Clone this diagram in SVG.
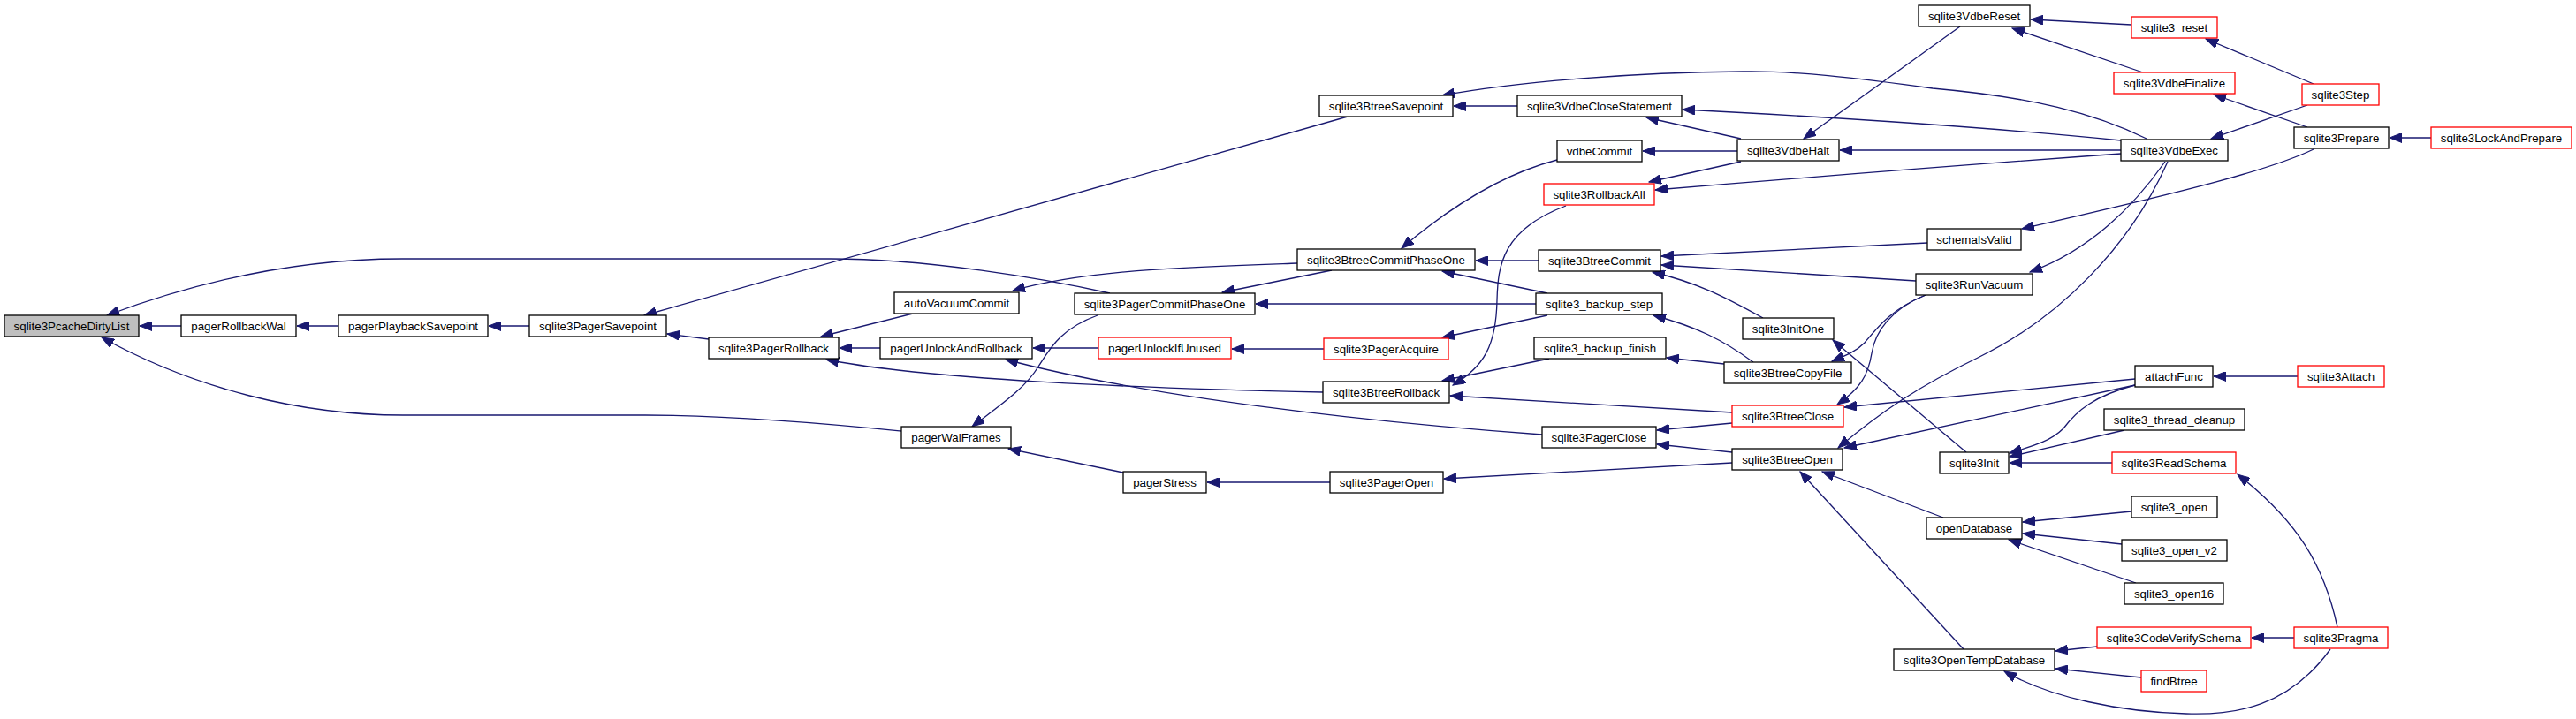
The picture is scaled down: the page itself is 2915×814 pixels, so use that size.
<svg xmlns="http://www.w3.org/2000/svg" width="2915" height="814" viewBox="0 0 2915 814">
<style>
.node rect{fill:#fff;stroke:#000;stroke-width:1.3}
.node.red rect{stroke:#ff0000}
.node.root rect{fill:#bfbfbf}
.node text{font-family:"Liberation Sans",Arial,sans-serif;font-size:13.3px;text-anchor:middle;fill:#000}
#edges path{fill:none;stroke:#191970;stroke-width:1.3;marker-end:url(#ah)}
</style>
<defs>
<marker id="ah" markerUnits="userSpaceOnUse" markerWidth="15" markerHeight="11" refX="14" refY="5.5" orient="auto">
<path d="M0,0 L14,5.5 L0,11 z" fill="#191970" stroke="#191970" stroke-width="1"/>
</marker>
</defs>
<rect width="2915" height="814" fill="#fff"/>
<g id="edges">
<path d="M205,369 L158,369"/>
<path d="M383,369 L336,369"/>
<path d="M599,369 L553,369"/>
<path d="M1256,332 C1180,315 1050,293 940,293 L455,293 C330,293 220,320 121,357"/>
<path d="M1020,488 C900,476 800,470 730,470 L456,470 C340,470 220,440 115,382"/>
<path d="M802,384 L755,378"/>
<path d="M1525,132 L729,357"/>
<path d="M1033,355 L929,381"/>
<path d="M996,394 L950,394"/>
<path d="M1497,444 C1300,440 1050,430 935,407"/>
<path d="M1745,492 C1550,478 1300,450 1138,407"/>
<path d="M1243,394 L1169,394"/>
<path d="M1498,395 L1394,395"/>
<path d="M1242,357 C1200,372 1188,395 1175,415 C1160,440 1130,460 1100,483"/>
<path d="M1271,535 L1141,508"/>
<path d="M1505,546 L1366,546"/>
<path d="M1507,306 L1383,331"/>
<path d="M1738,344 L1421,344"/>
<path d="M1468,298 C1350,302 1230,305 1146,329"/>
<path d="M1717,120 L1645,120"/>
<path d="M2429,157 C2370,128 2300,110 2187,100 C2100,88 2030,80 1972,81 C1850,82 1720,92 1632,108"/>
<path d="M1970,157 L1863,133"/>
<path d="M2400,159 Q2200,139 1904,124"/>
<path d="M1762,181 C1700,197 1640,235 1586,281"/>
<path d="M1966,171 L1859,171"/>
<path d="M1970,183 L1866,206"/>
<path d="M2400,170 L2082,170"/>
<path d="M2400,174 Q2150,192 1873,215"/>
<path d="M1772,233 C1700,260 1695,300 1694,340 C1693,390 1680,415 1644,436"/>
<path d="M1741,295 L1670,295"/>
<path d="M1751,332 L1632,307"/>
<path d="M1751,357 L1632,382"/>
<path d="M1753,406 L1632,431"/>
<path d="M1951,412 L1886,405"/>
<path d="M1984,410 C1950,385 1920,370 1871,357"/>
<path d="M1960,467 L1641,448"/>
<path d="M1960,479 L1875,487"/>
<path d="M1960,512 L1875,503"/>
<path d="M1960,524 L1634,542"/>
<path d="M2181,275 L1880,290"/>
<path d="M2168,318 L1880,300"/>
<path d="M1995,360 C1950,335 1920,320 1870,308"/>
<path d="M2179,334 C2140,350 2125,370 2110,388 C2100,398 2090,402 2073,409"/>
<path d="M2179,334 C2140,350 2122,375 2118,400 C2114,425 2105,440 2079,458"/>
<path d="M2225,512 L2074,385"/>
<path d="M2450,183 C2410,240 2360,285 2297,308"/>
<path d="M2453,183 C2410,280 2330,360 2240,404 C2170,438 2130,465 2080,507"/>
<path d="M2416,429 L2087,461"/>
<path d="M2416,436 L2087,507"/>
<path d="M2416,436 C2370,448 2350,465 2335,485 C2320,500 2300,505 2274,513"/>
<path d="M2404,487 L2274,517"/>
<path d="M2390,524 L2274,524"/>
<path d="M2645,710 C2630,640 2600,590 2532,537"/>
<path d="M2412,579 L2289,591"/>
<path d="M2401,616 L2289,604"/>
<path d="M2417,660 L2273,611"/>
<path d="M2199,586 L2062,534"/>
<path d="M2222,735 L2037,534"/>
<path d="M2373,732 L2326,737"/>
<path d="M2423,767 L2326,757"/>
<path d="M2637,735 C2590,800 2530,810 2474,808 C2400,806 2320,790 2268,760"/>
<path d="M2596,722 L2548,722"/>
<path d="M2600,426 L2505,426"/>
<path d="M2751,156 L2704,156"/>
<path d="M2618,169 C2570,192 2480,215 2288,259"/>
<path d="M2611,119 L2502,157"/>
<path d="M2618,95 L2496,44"/>
<path d="M2611,144 L2505,107"/>
<path d="M2412,28 L2298,22"/>
<path d="M2425,82 L2277,32"/>
<path d="M2218,30 L2041,157"/>
</g>
<g id="n_sqlite3PcacheDirtyList" class="node root"><rect x="5" y="357" width="152" height="24"/><text x="81" y="374">sqlite3PcacheDirtyList</text></g>
<g id="n_pagerRollbackWal" class="node"><rect x="205" y="357" width="130" height="24"/><text x="270" y="374">pagerRollbackWal</text></g>
<g id="n_pagerPlaybackSavepoint" class="node"><rect x="383" y="357" width="169" height="24"/><text x="467.5" y="374">pagerPlaybackSavepoint</text></g>
<g id="n_sqlite3PagerSavepoint" class="node"><rect x="599" y="357" width="155" height="24"/><text x="676.5" y="374">sqlite3PagerSavepoint</text></g>
<g id="n_sqlite3PagerRollback" class="node"><rect x="802" y="382" width="147" height="24"/><text x="875.5" y="399">sqlite3PagerRollback</text></g>
<g id="n_autoVacuumCommit" class="node"><rect x="1012" y="331" width="141" height="24"/><text x="1082.5" y="348">autoVacuumCommit</text></g>
<g id="n_pagerUnlockAndRollback" class="node"><rect x="996" y="382" width="172" height="24"/><text x="1082" y="399">pagerUnlockAndRollback</text></g>
<g id="n_sqlite3PagerCommitPhaseOne" class="node"><rect x="1216" y="332" width="204" height="24"/><text x="1318" y="349">sqlite3PagerCommitPhaseOne</text></g>
<g id="n_pagerUnlockIfUnused" class="node red"><rect x="1243" y="382" width="150" height="24"/><text x="1318" y="399">pagerUnlockIfUnused</text></g>
<g id="n_pagerWalFrames" class="node"><rect x="1020" y="483" width="124" height="24"/><text x="1082" y="500">pagerWalFrames</text></g>
<g id="n_pagerStress" class="node"><rect x="1271" y="534" width="94" height="24"/><text x="1318" y="551">pagerStress</text></g>
<g id="n_sqlite3BtreeSavepoint" class="node"><rect x="1493" y="108" width="151" height="24"/><text x="1568.5" y="125">sqlite3BtreeSavepoint</text></g>
<g id="n_sqlite3VdbeCloseStatement" class="node"><rect x="1717" y="108" width="186" height="24"/><text x="1810" y="125">sqlite3VdbeCloseStatement</text></g>
<g id="n_vdbeCommit" class="node"><rect x="1762" y="159" width="96" height="24"/><text x="1810" y="176">vdbeCommit</text></g>
<g id="n_sqlite3RollbackAll" class="node red"><rect x="1747" y="208" width="125" height="24"/><text x="1809.5" y="225">sqlite3RollbackAll</text></g>
<g id="n_sqlite3BtreeCommitPhaseOne" class="node"><rect x="1468" y="282" width="201" height="24"/><text x="1568.5" y="299">sqlite3BtreeCommitPhaseOne</text></g>
<g id="n_sqlite3BtreeCommit" class="node"><rect x="1741" y="283" width="138" height="24"/><text x="1810" y="300">sqlite3BtreeCommit</text></g>
<g id="n_sqlite3_backup_step" class="node"><rect x="1738" y="332" width="143" height="24"/><text x="1809.5" y="349">sqlite3_backup_step</text></g>
<g id="n_sqlite3PagerAcquire" class="node red"><rect x="1498" y="383" width="141" height="24"/><text x="1568.5" y="400">sqlite3PagerAcquire</text></g>
<g id="n_sqlite3_backup_finish" class="node"><rect x="1736" y="382" width="149" height="24"/><text x="1810.5" y="399">sqlite3_backup_finish</text></g>
<g id="n_sqlite3BtreeRollback" class="node"><rect x="1497" y="432" width="143" height="24"/><text x="1568.5" y="449">sqlite3BtreeRollback</text></g>
<g id="n_sqlite3PagerClose" class="node"><rect x="1745" y="483" width="129" height="24"/><text x="1809.5" y="500">sqlite3PagerClose</text></g>
<g id="n_sqlite3PagerOpen" class="node"><rect x="1505" y="534" width="128" height="24"/><text x="1569" y="551">sqlite3PagerOpen</text></g>
<g id="n_sqlite3VdbeHalt" class="node"><rect x="1966" y="158" width="115" height="24"/><text x="2023.5" y="175">sqlite3VdbeHalt</text></g>
<g id="n_sqlite3InitOne" class="node"><rect x="1972" y="360" width="103" height="24"/><text x="2023.5" y="377">sqlite3InitOne</text></g>
<g id="n_sqlite3BtreeCopyFile" class="node"><rect x="1951" y="410" width="144" height="24"/><text x="2023" y="427">sqlite3BtreeCopyFile</text></g>
<g id="n_sqlite3BtreeClose" class="node red"><rect x="1960" y="459" width="126" height="24"/><text x="2023" y="476">sqlite3BtreeClose</text></g>
<g id="n_sqlite3BtreeOpen" class="node"><rect x="1960" y="508" width="125" height="24"/><text x="2022.5" y="525">sqlite3BtreeOpen</text></g>
<g id="n_sqlite3VdbeReset" class="node"><rect x="2171" y="6" width="126" height="24"/><text x="2234" y="23">sqlite3VdbeReset</text></g>
<g id="n_schemaIsValid" class="node"><rect x="2181" y="259" width="106" height="24"/><text x="2234" y="276">schemaIsValid</text></g>
<g id="n_sqlite3RunVacuum" class="node"><rect x="2168" y="310" width="132" height="24"/><text x="2234" y="327">sqlite3RunVacuum</text></g>
<g id="n_sqlite3Init" class="node"><rect x="2195" y="512" width="78" height="24"/><text x="2234" y="529">sqlite3Init</text></g>
<g id="n_openDatabase" class="node"><rect x="2180" y="586" width="108" height="24"/><text x="2234" y="603">openDatabase</text></g>
<g id="n_sqlite3OpenTempDatabase" class="node"><rect x="2143" y="735" width="182" height="24"/><text x="2234" y="752">sqlite3OpenTempDatabase</text></g>
<g id="n_sqlite3_reset" class="node red"><rect x="2412" y="19" width="97" height="24"/><text x="2460.5" y="36">sqlite3_reset</text></g>
<g id="n_sqlite3VdbeFinalize" class="node red"><rect x="2392" y="82" width="137" height="24"/><text x="2460.5" y="99">sqlite3VdbeFinalize</text></g>
<g id="n_sqlite3VdbeExec" class="node"><rect x="2400" y="158" width="121" height="24"/><text x="2460.5" y="175">sqlite3VdbeExec</text></g>
<g id="n_attachFunc" class="node"><rect x="2416" y="414" width="88" height="24"/><text x="2460" y="431">attachFunc</text></g>
<g id="n_sqlite3_thread_cleanup" class="node"><rect x="2381" y="463" width="159" height="24"/><text x="2460.5" y="480">sqlite3_thread_cleanup</text></g>
<g id="n_sqlite3ReadSchema" class="node red"><rect x="2390" y="512" width="140" height="24"/><text x="2460" y="529">sqlite3ReadSchema</text></g>
<g id="n_sqlite3_open" class="node"><rect x="2412" y="562" width="97" height="24"/><text x="2460.5" y="579">sqlite3_open</text></g>
<g id="n_sqlite3_open_v2" class="node"><rect x="2401" y="611" width="119" height="24"/><text x="2460.5" y="628">sqlite3_open_v2</text></g>
<g id="n_sqlite3_open16" class="node"><rect x="2404" y="660" width="112" height="24"/><text x="2460" y="677">sqlite3_open16</text></g>
<g id="n_sqlite3CodeVerifySchema" class="node red"><rect x="2373" y="710" width="174" height="24"/><text x="2460" y="727">sqlite3CodeVerifySchema</text></g>
<g id="n_findBtree" class="node red"><rect x="2423" y="759" width="74" height="24"/><text x="2460" y="776">findBtree</text></g>
<g id="n_sqlite3Step" class="node red"><rect x="2605" y="95" width="87" height="24"/><text x="2648.5" y="112">sqlite3Step</text></g>
<g id="n_sqlite3Prepare" class="node"><rect x="2596" y="144" width="107" height="24"/><text x="2649.5" y="161">sqlite3Prepare</text></g>
<g id="n_sqlite3Pragma" class="node red"><rect x="2596" y="710" width="106" height="24"/><text x="2649" y="727">sqlite3Pragma</text></g>
<g id="n_sqlite3LockAndPrepare" class="node red"><rect x="2751" y="144" width="159" height="24"/><text x="2830.5" y="161">sqlite3LockAndPrepare</text></g>
<g id="n_sqlite3Attach" class="node red"><rect x="2600" y="414" width="98" height="24"/><text x="2649" y="431">sqlite3Attach</text></g>
</svg>
